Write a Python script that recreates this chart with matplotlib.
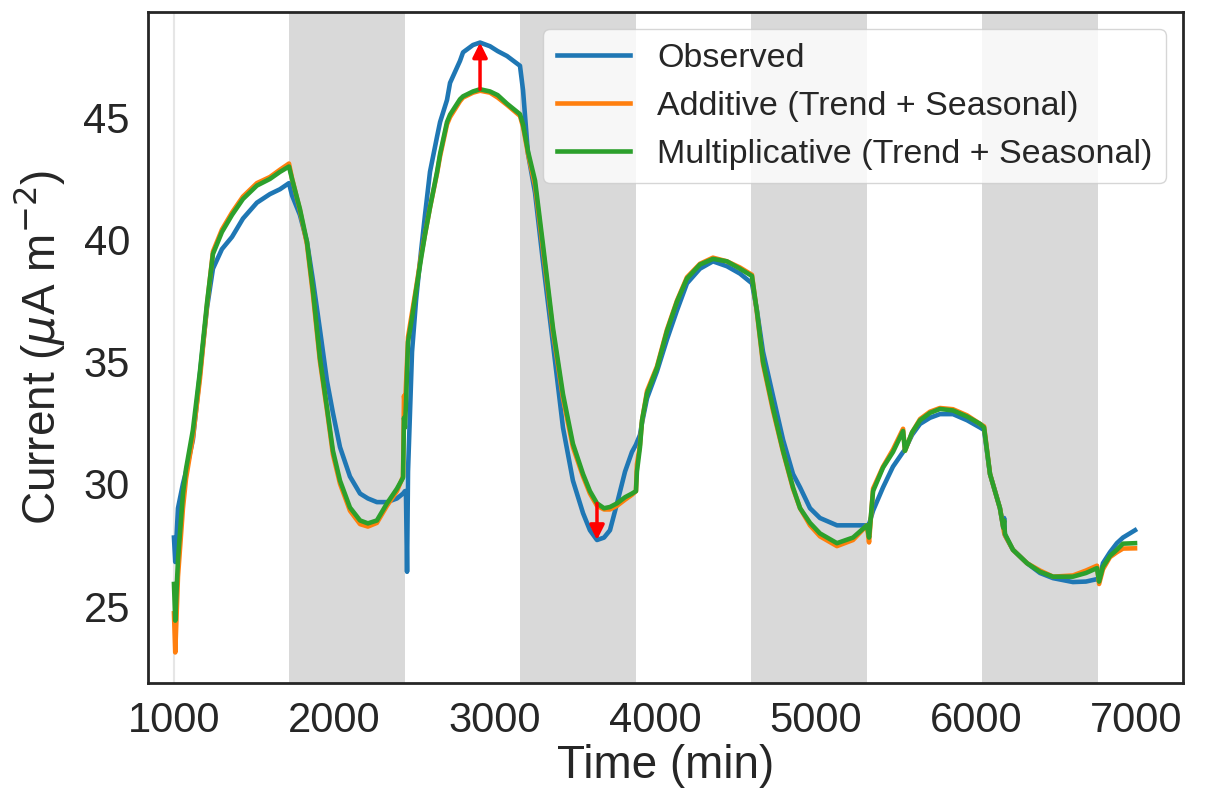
import matplotlib
matplotlib.use("Agg")
import matplotlib.pyplot as plt
import numpy as np

# ---- data ----
time_min = [
    1000, 1008, 1025, 1056, 1075, 1118, 1162, 1206, 1243, 1299, 1362, 1430, 1517, 1598, 1661, 1717,
    1736, 1785, 1829, 1867, 1910, 1954, 1991, 2035, 2097, 2160, 2209, 2265, 2328, 2390, 2428,
    2434, 2440, 2446, 2453, 2459, 2484, 2509, 2540, 2565, 2596, 2640, 2659, 2702, 2721, 2783,
    2802, 2864, 2908, 2970, 3018, 3076, 3157, 3176, 3207, 3251, 3300, 3363, 3425, 3487, 3550,
    3593, 3637, 3681, 3718, 3762, 3812, 3855, 3880, 3886, 3905, 3918, 3949, 4011, 4073, 4136,
    4198, 4279, 4360, 4447, 4528, 4603, 4634, 4672, 4734, 4797, 4859, 4903, 4965, 5027, 5133,
    5233, 5320, 5333, 5358, 5420, 5482, 5545, 5557, 5601, 5651, 5713, 5775, 5856, 5944, 6025,
    6050, 6087, 6149, 6170, 6175, 6180, 6230, 6318, 6399, 6480, 6604, 6685, 6754, 6767, 6791,
    6835, 6878, 6916, 6991,
]
observed = [
    27.8, 26.8, 29.0, 30.0, 30.5, 31.8, 34.5, 37.2, 38.8, 39.6, 40.1, 40.85, 41.5, 41.85, 42.05, 42.3,
    41.8, 41.0, 39.9, 38.3, 36.3, 34.2, 32.9, 31.5, 30.3, 29.6, 29.4, 29.25, 29.25, 29.4, 29.6,
    29.65, 29.7, 29.7, 26.4, 30.5, 35.4, 37.5, 39.5, 41.0, 42.76, 44.2, 44.8, 45.7, 46.4, 47.3,
    47.65, 47.95, 48.05, 47.9, 47.7, 47.5, 47.1, 46.1, 43.5, 41.9, 39.1, 35.7, 32.3, 30.13, 28.8,
    28.1, 27.7, 27.8, 28.1, 29.2, 30.5, 31.3, 31.6, 31.7, 32.0, 32.5, 33.5, 34.6, 35.9, 37.1,
    38.2, 38.8, 39.1, 38.9, 38.6, 38.2, 37.1, 35.4, 33.6, 31.8, 30.4, 29.85, 29.0, 28.6, 28.3,
    28.3, 28.3, 28.35, 28.9, 29.85, 30.7, 31.3, 31.4, 32.0, 32.45, 32.7, 32.85, 32.85, 32.6, 32.3,
    32.2, 30.4, 29.0, 28.2, 28.6, 27.9, 27.3, 26.75, 26.35, 26.14, 25.98, 26.0, 26.1, 26.05, 26.75,
    27.2, 27.57, 27.8, 28.1,
]
additive = [
    24.7, 23.1, 26.2, 29.0, 30.2, 31.9, 34.3, 37.3, 39.5, 40.4, 41.1, 41.75, 42.3, 42.55, 42.85, 43.1,
    42.5, 41.2, 39.8, 37.7, 35.0, 33.0, 31.2, 30.0, 28.9, 28.35, 28.25, 28.4, 29.1, 29.7, 30.3,
    33.6, 33.1, 34.0, 35.0, 36.0, 37.0, 38.0, 39.3, 40.2, 41.3, 42.7, 43.4, 44.7, 45.0, 45.65,
    45.8, 46.0, 46.08, 46.0, 45.8, 45.5, 45.05, 44.6, 43.5, 42.2, 39.6, 36.2, 33.5, 31.5, 30.3,
    29.6, 29.1, 28.95, 28.95, 29.1, 29.35, 29.55, 29.7, 30.8, 31.6, 32.6, 33.8, 34.8, 36.3, 37.5,
    38.45, 39.0, 39.25, 39.1, 38.85, 38.55, 37.0, 34.9, 33.0, 31.3, 29.8, 29.0, 28.3, 27.85, 27.45,
    27.7, 28.3, 27.6, 29.8, 30.7, 31.4, 32.25, 31.35, 32.1, 32.65, 32.95, 33.1, 33.05, 32.8, 32.45,
    32.35, 30.4, 29.0, 28.2, 28.0, 27.9, 27.3, 26.75, 26.45, 26.2, 26.25, 26.45, 26.65, 25.9, 26.5,
    27.0, 27.2, 27.35, 27.36,
]
multiplicative = [
    25.9, 24.4, 26.9, 29.6, 30.6, 32.2, 34.6, 37.4, 39.4, 40.3, 41.0, 41.65, 42.2, 42.47, 42.76, 42.98,
    42.47, 41.25, 39.9, 37.87, 35.14, 33.1, 31.35, 30.13, 29.03, 28.5, 28.38, 28.5, 29.2, 29.8, 30.25,
    32.7, 32.3, 33.2, 34.6, 35.8, 36.8, 37.9, 39.2, 40.2, 41.3, 42.76, 43.5, 44.8, 45.1, 45.73,
    45.85, 46.05, 46.14, 46.05, 45.9, 45.55, 45.12, 44.7, 43.6, 42.4, 39.8, 36.36, 33.67, 31.64, 30.4,
    29.7, 29.2, 29.0, 29.05, 29.2, 29.45, 29.6, 29.7, 30.5, 31.5, 32.6, 33.7, 34.74, 36.24, 37.46,
    38.4, 38.97, 39.2, 39.1, 38.8, 38.5, 37.06, 35.0, 33.1, 31.35, 29.85, 29.0, 28.4, 27.97, 27.57,
    27.8, 28.3, 27.8, 29.7, 30.66, 31.3, 32.16, 31.35, 32.1, 32.6, 32.9, 33.06, 33.0, 32.75, 32.45,
    32.3, 30.4, 29.0, 28.2, 28.5, 27.95, 27.3, 26.75, 26.4, 26.2, 26.2, 26.35, 26.55, 26.0, 26.6,
    27.05, 27.3, 27.55, 27.57,
]

# dark periods (min)
night_start = [1720, 3160, 4600, 6040]
night_length = 720

plt.rcParams["font.family"] = ["Liberation Sans", "DejaVu Sans"]
text_color = "#262626"

fig = plt.figure(figsize=(12.07, 8.06), dpi=100)
ax = fig.add_axes([0.1226, 0.1526, 0.8575, 0.8325])

for start in night_start:
    ax.axvspan(start, start + night_length, color="#d9d9d9", lw=0, zorder=0)
ax.axvline(time_min[0], color="#e6e6e6", lw=1.5, zorder=0)

lw = 3.3
ax.plot(time_min, observed, color="#1f77b4", lw=lw, label="Observed")
ax.plot(time_min, additive, color="#ff7f0e", lw=lw, label="Additive (Trend + Seasonal)")
ax.plot(time_min, multiplicative, color="#2ca02c", lw=lw, label="Multiplicative (Trend + Seasonal)")

# arrows: model -> observed at the peak and at the following trough
t_arr = np.asarray(time_min)
obs_arr = np.asarray(observed)
mul_arr = np.asarray(multiplicative)
i_max = int(np.argmax(obs_arr))
win = (t_arr > 3300) & (t_arr < 3900)
i_min = int(np.flatnonzero(win)[np.argmin(obs_arr[win])])
for i in (i_max, i_min):
    ax.annotate(
        "", xy=(t_arr[i], obs_arr[i]), xytext=(t_arr[i], mul_arr[i]),
        arrowprops=dict(arrowstyle="-|>", color="red", lw=2.5, mutation_scale=22,
                        shrinkA=0, shrinkB=0),
        zorder=5,
    )

ax.set_xlim(838, 7290)
ax.set_ylim(21.85, 49.3)
ax.set_xticks([1000, 2000, 3000, 4000, 5000, 6000, 7000])
ax.set_yticks([25, 30, 35, 40, 45])
ax.tick_params(axis="both", length=0, pad=13, labelsize=30, labelcolor=text_color)
ax.set_xlabel("Time (min)", fontsize=33, color=text_color, labelpad=2)
ax.set_ylabel(r"Current ($\mu$A m$^{-2}$)", fontsize=33, color=text_color, labelpad=12)
for spine in ax.spines.values():
    spine.set_color(text_color)
    spine.set_linewidth(2)

leg = ax.legend(loc="upper right", fontsize=24.5, frameon=True, fancybox=True,
                handlelength=2.15)
leg.get_frame().set_edgecolor("#cccccc")
for txt in leg.get_texts():
    txt.set_color(text_color)

fig.savefig("out.png", dpi=100)
